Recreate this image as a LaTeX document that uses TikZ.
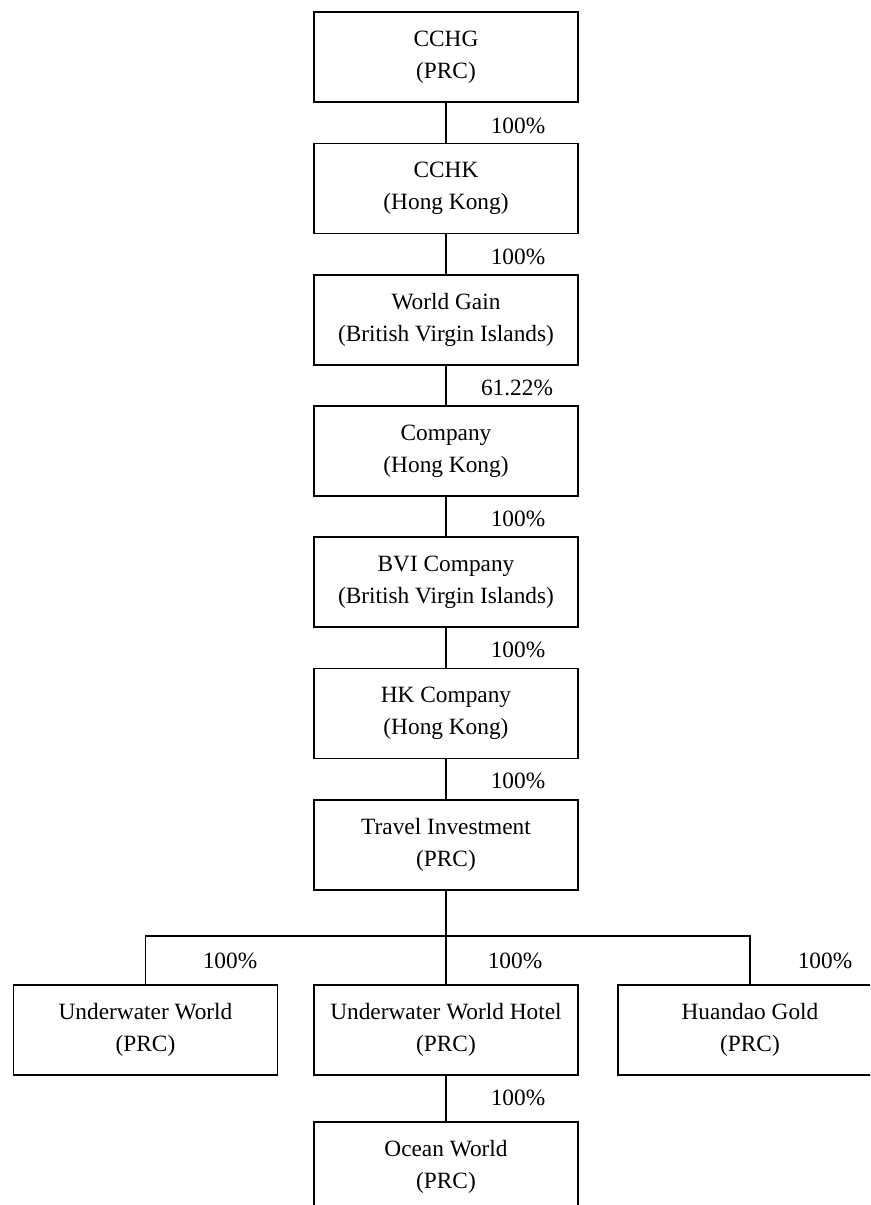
\documentclass[tikz,border=0pt]{standalone}
\usepackage{fontspec}
\setmainfont{Liberation Serif}
\usepackage{tikz}

\begin{document}
\begin{tikzpicture}[x=0.75pt,y=-0.75pt,
	entity/.style={draw,line width=0.9pt,align=center,minimum width=198pt,minimum height=67.5pt,inner sep=0pt,font=\fontsize{17.5}{24}\selectfont},
	share/.style={font=\fontsize{17.5}{24}\selectfont,inner sep=0pt},
	link/.style={line width=0.9pt}]
	%	\draw[thin,densely dashed] (0,0) grid[step=50] (870,1205);
	\useasboundingbox (0,0) rectangle (870,1205);
	\clip (0,0) rectangle (870,1205);
	\node[entity] (cchg) at (446,57) {CCHG\\(PRC)};
	\node[entity] (cchk) at (446,188.5) {CCHK\\(Hong Kong)};
	\node[entity] (wg) at (446,320) {World Gain\\(British Virgin Islands)};
	\node[entity] (co) at (446,451) {Company\\(Hong Kong)};
	\node[entity] (bvi) at (446,582) {BVI Company\\(British Virgin Islands)};
	\node[entity] (hk) at (446,713.5) {HK Company\\(Hong Kong)};
	\node[entity] (ti) at (446,845) {Travel Investment\\(PRC)};
	\node[entity] (uw) at (145.5,1030) {Underwater World\\(PRC)};
	\node[entity] (uwh) at (446,1030) {Underwater World Hotel\\(PRC)};
	\node[entity] (hg) at (750,1030) {Huandao Gold\\(PRC)};
	\node[entity] (ow) at (446,1167) {Ocean World\\(PRC)};
	
	\coordinate (split) at (446,936);
	\draw[link] (cchg.south) -- (cchk.north);
	\draw[link] (cchk.south) -- (wg.north);
	\draw[link] (wg.south) -- (co.north);
	\draw[link] (co.south) -- (bvi.north);
	\draw[link] (bvi.south) -- (hk.north);
	\draw[link] (hk.south) -- (ti.north);
	\draw[link] (ti.south) -- (split);
	\draw[link] (uw.north) |- (split);
	\draw[link] (hg.north) |- (split);
	\draw[link] (split) -- (uwh.north);
	\draw[link] (uwh.south) -- (ow.north);
	
	\node[share] (s1) at (518,126) {100\%};
	\node[share] (s2) at (518,257) {100\%};
	\node[share] (s3) at (517,388) {61.22\%};
	\node[share] (s4) at (518,519) {100\%};
	\node[share] (s5) at (518,650) {100\%};
	\node[share] (s6) at (518,781) {100\%};
	\node[share] (s7) at (230,961) {100\%};
	\node[share] (s8) at (515,961) {100\%};
	\node[share] (s9) at (825,961) {100\%};
	\node[share] (s10) at (518,1098) {100\%};
\end{tikzpicture}
\end{document}
